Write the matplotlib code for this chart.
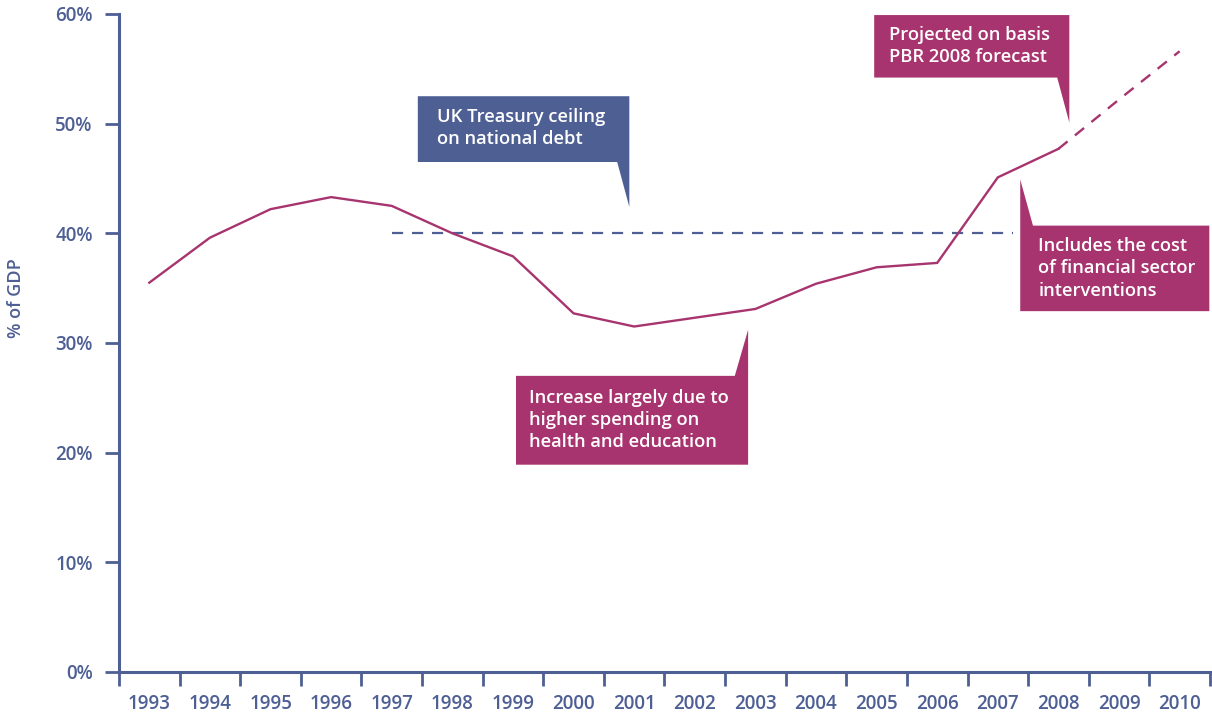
import matplotlib.pyplot as plt
from matplotlib.patches import Polygon
import numpy as np

# data
years = [str(y) for y in range(1993, 2011)]
debt_pct = [35.5, 39.6, 42.2, 43.3, 42.5, 40.0, 37.9, 32.7, 31.5, 32.3,
            33.1, 35.4, 36.9, 37.3, 45.1, 47.7, 52.2, 56.6]
n_actual = 16          # 1993-2008 actual, 2009-2010 projected
ceiling = 40
ceiling_from, ceiling_to = '1997', '2007'
y_ticks = [0, 10, 20, 30, 40, 50, 60]

BLUE = '#4e5f94'
MAGENTA = '#a8346f'
plt.rcParams['font.family'] = ['Open Sans', 'DejaVu Sans']

fig = plt.figure(figsize=(12.12, 7.16), dpi=100)
ax = fig.add_axes([0.0982, 0.0615, 0.9001, 0.919])

x = np.arange(len(years))
ax.plot(x[:n_actual], debt_pct[:n_actual], color=MAGENTA, lw=1.7,
        solid_joinstyle='miter', zorder=3)
ax.plot(x[n_actual - 1:], debt_pct[n_actual - 1:], color=MAGENTA, lw=1.7,
        dashes=(5, 4), zorder=3)

# treasury ceiling
x0 = years.index(ceiling_from)
x1 = years.index(ceiling_to) + 0.25
ax.plot([x0, x1], [ceiling, ceiling], color=BLUE, lw=1.6, dashes=(5, 4), zorder=2)

# axes
ax.set_xlim(-0.5, len(years) - 0.5)
ax.set_ylim(0, 60)
for s in ['top', 'right']:
    ax.spines[s].set_visible(False)
for s in ['left', 'bottom']:
    ax.spines[s].set_color(BLUE)
    ax.spines[s].set_linewidth(2.2)

ax.set_xticks(np.arange(-0.5, len(years)), labels=[])
ax.set_xticks(x, labels=years, minor=True)
ax.tick_params(axis='x', which='major', length=10, width=2, color=BLUE)
ax.tick_params(axis='x', which='minor', length=0, pad=16, labelsize=13.5,
               labelcolor=BLUE)
ax.set_yticks(y_ticks, labels=[f'{v}%' for v in y_ticks])
ax.tick_params(axis='y', length=10, width=2, color=BLUE, labelsize=13.5,
               labelcolor=BLUE, pad=9)
for lab in ax.get_xticklabels(minor=True) + ax.get_yticklabels():
    lab.set_fontweight('semibold')
ax.set_ylabel('% of GDP', color=BLUE, fontsize=13, fontweight='semibold')
ax.yaxis.set_label_coords(-0.086, 0.568)


# callout boxes (polygon corners in data units)
def callout(pts, color, tx, ty, text):
    ax.add_patch(Polygon(pts, closed=True, facecolor=color, edgecolor='none',
                         zorder=4, clip_on=False))
    ax.text(tx, ty, text, color='white', fontsize=13.2, fontweight='semibold',
            ha='left', va='center', linespacing=1.3, zorder=5)


callout([(4.43, 52.5), (7.92, 52.5), (7.92, 42.4), (7.72, 46.5), (4.43, 46.5)],
        BLUE, 4.75, 49.6, 'UK Treasury ceiling\non national debt')
callout([(6.05, 27.0), (9.66, 27.0), (9.88, 31.2), (9.88, 18.9), (6.05, 18.9)],
        MAGENTA, 6.26, 23.0, 'Increase largely due to\nhigher spending on\nhealth and education')
callout([(11.96, 59.9), (15.18, 59.9), (15.18, 50.1), (14.98, 54.2), (11.96, 54.2)],
        MAGENTA, 12.2, 57.1, 'Projected on basis\nPBR 2008 forecast')
callout([(14.37, 44.9), (14.58, 40.7), (17.49, 40.7), (17.49, 32.9), (14.37, 32.9)],
        MAGENTA, 14.67, 36.8, 'Includes the cost\nof financial sector\ninterventions')

fig.savefig('out.png', dpi=100)
